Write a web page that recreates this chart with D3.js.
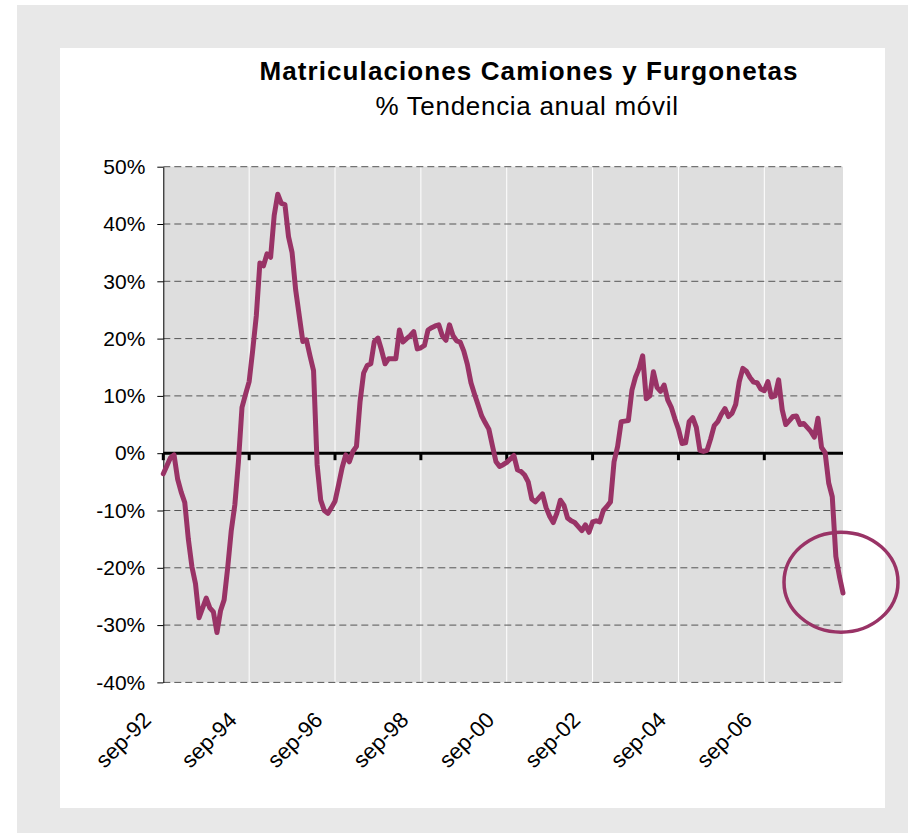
<!DOCTYPE html>
<html>
<head>
<meta charset="utf-8">
<script src="https://cdn.jsdelivr.net/npm/d3@7"></script>
<style>
  html, body { margin: 0; padding: 0; background: #fff; }
  svg { display: block; font-family: "Liberation Sans", Arial, sans-serif; }
</style>
</head>
<body>
<svg id="chart" width="908" height="833"></svg>
<script>
// Datos: tendencia anual móvil (%), mensual desde sep-92
const START_LABEL = 'sep-92';
const trend = [
  -3.6, -2.2, -0.8, -0.3, -4.5, -6.8, -8.6, -15, -19.8, -22.8,
  -28.7, -27, -25.3, -27, -27.7, -31.3, -27.5, -25.6, -20, -13.5,
  -9, -1.5, 8, 10.3, 12.5, 18, 24, 33.2, 32.7, 34.8,
  34.2, 41.5, 45.2, 43.6, 43.4, 37.8, 35, 28.5, 24, 19.5,
  19.8, 17, 14.4, -2, -8.2, -10, -10.5, -9.5, -8.4, -5.5,
  -2.5, -0.3, -1.5, 0.3, 1.2, 9, 14, 15.3, 15.6, 19.5,
  20.1, 18, 15.6, 16.5, 16.5, 16.5, 21.5, 19.4, 20, 20.5,
  21.2, 18.2, 18.4, 18.8, 21.5, 21.9, 22.2, 22.4, 20.5, 19.7,
  22.4, 20.5, 19.6, 19.4, 17.8, 15.5, 12.3, 10.3, 8.4, 6.5,
  5.3, 4.2, 1.3, -1.5, -2.3, -2, -1.6, -1, -0.4, -2.9,
  -3.2, -3.8, -5, -8, -8.5, -7.8, -7.1, -9.5, -11, -12.1,
  -10.5, -8.2, -9.1, -11.3, -11.8, -12.1, -12.8, -13.5, -12.5, -13.8,
  -12, -11.8, -12, -10, -9.3, -8.5, -1.5, 1.2, 5.5, 5.6,
  5.7, 11, 13.3, 14.8, 17, 9.5, 10, 14.2, 11.5, 10.8,
  11.9, 9.3, 8, 6, 4.2, 1.7, 1.8, 5.5, 6.2, 4.5,
  0.5, 0.3, 0.5, 2.5, 4.8, 5.5, 6.8, 7.8, 6.4, 7,
  8.5, 12.5, 14.8, 14.3, 13.2, 12.4, 12.3, 11.2, 10.9, 12.5,
  9.8, 10, 12.8, 7.6, 5, 5.7, 6.4, 6.5, 5, 5.2,
  4.5, 3.8, 2.8, 6.1, 1, 0.1, -5.2, -7.6, -18, -21.5,
  -24.4
];
const tickMonths = [0, 24, 48, 72, 96, 120, 144, 168];
const tickLabels = ['sep-92', 'sep-94', 'sep-96', 'sep-98', 'sep-00', 'sep-02', 'sep-04', 'sep-06'];
const yTicks = [-40, -30, -20, -10, 0, 10, 20, 30, 40, 50];

const TITLE = 'Matriculaciones Camiones y Furgonetas';
const SUBTITLE = '% Tendencia anual móvil';

const LINE_COLOR = '#993366';
const PLOT = { left: 163.3, right: 843, top: 166.7, bottom: 682.4 };

const svg = d3.select('#chart');

// Marco exterior
svg.append('rect').attr('x', 17).attr('y', 5).attr('width', 891).attr('height', 828).attr('fill', '#e8e8e8');
svg.append('rect').attr('x', 60).attr('y', 48).attr('width', 825).attr('height', 760).attr('fill', '#ffffff');

// Títulos
svg.append('text')
  .attr('x', 529).attr('y', 80)
  .attr('text-anchor', 'middle')
  .style('font-size', '26px').style('font-weight', 'bold')
  .style('letter-spacing', '1.1px')
  .text(TITLE);
svg.append('text')
  .attr('x', 527).attr('y', 115)
  .attr('text-anchor', 'middle')
  .style('font-size', '26px')
  .style('letter-spacing', '0.7px')
  .text(SUBTITLE);

// Escalas
const x = d3.scaleLinear().domain([0, trend.length - 1]).range([PLOT.left, PLOT.right]);
const y = d3.scaleLinear().domain([-40, 50]).range([PLOT.bottom, PLOT.top]);

// Fondo del área de trazado
svg.append('rect')
  .attr('x', PLOT.left).attr('y', PLOT.top)
  .attr('width', PLOT.right - PLOT.left).attr('height', PLOT.bottom - PLOT.top)
  .attr('fill', '#dedede');

// Líneas verticales blancas
svg.append('g').selectAll('line')
  .data(tickMonths.filter(m => m > 0))
  .join('line')
  .attr('x1', d => x(d)).attr('x2', d => x(d))
  .attr('y1', PLOT.top).attr('y2', PLOT.bottom)
  .attr('stroke', '#ffffff').attr('stroke-width', 1);

// Cuadrícula horizontal discontinua
svg.append('g').selectAll('line')
  .data(yTicks.filter(v => v !== 0))
  .join('line')
  .attr('x1', PLOT.left).attr('x2', PLOT.right)
  .attr('y1', d => y(d)).attr('y2', d => y(d))
  .attr('stroke', '#555').attr('stroke-width', 1)
  .attr('stroke-dasharray', '7,4');

// Eje Y
const yAxisG = svg.append('g')
  .attr('transform', `translate(${PLOT.left},0)`)
  .call(d3.axisLeft(y).tickValues(yTicks).tickSize(6).tickSizeOuter(0).tickPadding(12)
    .tickFormat(d => `${d}%`));
yAxisG.select('.domain').attr('stroke', '#000');
yAxisG.selectAll('.tick line').attr('stroke', '#000');
yAxisG.selectAll('text')
  .style('font-size', '21px')
  .style('font-family', '"Liberation Sans", Arial, sans-serif')
  .attr('fill', '#000');

// Línea del cero y marcas
svg.append('line')
  .attr('x1', PLOT.left).attr('x2', PLOT.right)
  .attr('y1', y(0)).attr('y2', y(0))
  .attr('stroke', '#000').attr('stroke-width', 3);
svg.append('g').selectAll('line')
  .data(tickMonths)
  .join('line')
  .attr('x1', d => x(d)).attr('x2', d => x(d))
  .attr('y1', y(0)).attr('y2', y(0) + 7)
  .attr('stroke', '#000').attr('stroke-width', 3);

// Etiquetas del eje X
svg.append('g').selectAll('text')
  .data(tickMonths)
  .join('text')
  .attr('transform', (d) => `translate(${x(d) - 11},${PLOT.bottom + 39}) rotate(-45)`)
  .attr('text-anchor', 'end')
  .style('font-size', '22px')
  .text((d, i) => tickLabels[i]);

// Serie
const line = d3.line()
  .x((d, i) => x(i))
  .y(d => y(d));
svg.append('path')
  .datum(trend)
  .attr('d', line)
  .attr('fill', 'none')
  .attr('stroke', LINE_COLOR)
  .attr('stroke-width', 5)
  .attr('stroke-linejoin', 'round')
  .attr('stroke-linecap', 'round');

// Círculo de resalte sobre el final de la serie
const last = trend.length - 1;
svg.append('ellipse')
  .attr('cx', x(last) - 2)
  .attr('cy', y(-22.5))
  .attr('rx', 57)
  .attr('ry', 50)
  .attr('fill', 'none')
  .attr('stroke', LINE_COLOR)
  .attr('stroke-width', 3.5);
</script>
</body>
</html>
